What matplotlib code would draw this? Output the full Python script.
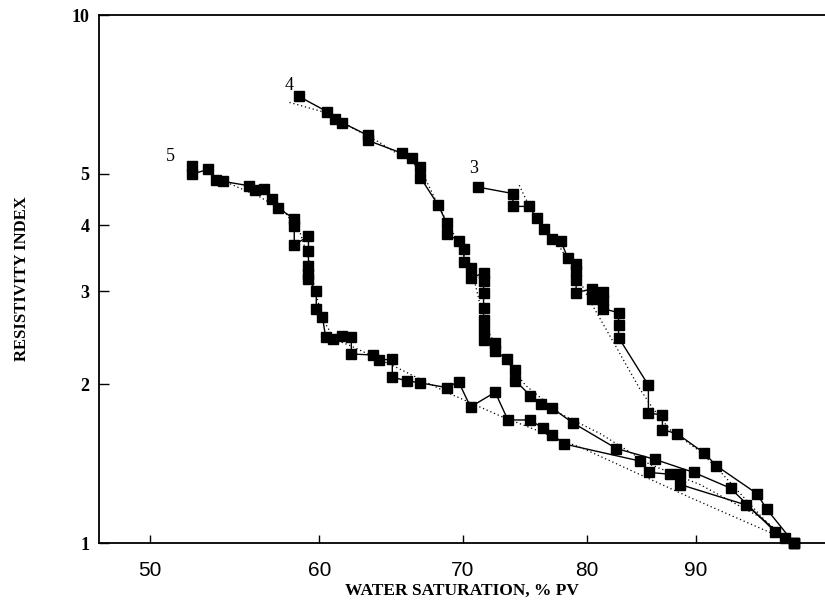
import matplotlib
matplotlib.use("Agg")
import matplotlib.pyplot as plt
from matplotlib.ticker import FixedLocator, NullLocator, FixedFormatter

# Kurve 5 (Messwerte)
sw5 = [52.3, 52.3, 53.2, 53.7, 54.1, 55.6, 56.0, 56.5, 57.0, 57.4, 58.4, 58.4, 58.4,
       59.3, 59.3, 59.3, 59.3, 59.3, 59.8, 59.8, 60.2, 60.4, 60.9, 61.5, 62.1, 62.1,
       63.6, 64.0, 64.9, 64.9, 65.9, 66.9, 68.8, 69.7, 70.6, 72.5, 73.5, 75.3, 76.3,
       77.1, 78.1, 84.7, 85.6, 87.5, 88.5, 88.5, 95.0, 99.0, 100.0]
ri5 = [5.17, 4.99, 5.10, 4.88, 4.84, 4.75, 4.67, 4.68, 4.48, 4.31, 4.11, 3.98, 3.67,
       3.81, 3.57, 3.35, 3.23, 3.16, 3.00, 2.78, 2.68, 2.46, 2.43, 2.47, 2.46, 2.28,
       2.27, 2.22, 2.23, 2.06, 2.03, 2.01, 1.97, 2.02, 1.81, 1.93, 1.71, 1.71, 1.65,
       1.60, 1.54, 1.43, 1.36, 1.35, 1.35, 1.29, 1.18, 1.02, 1.0]

# Kurve 4
sw4 = [58.7, 60.5, 61.0, 61.5, 63.2, 63.2, 65.6, 66.3, 66.9, 66.9, 68.2, 68.8, 68.8,
       69.7, 70.1, 70.1, 70.6, 70.6, 71.6, 71.6, 71.6, 71.6, 71.6, 71.6, 71.6, 72.5,
       72.5, 73.4, 74.1, 74.1, 75.3, 76.2, 77.1, 78.8, 82.6, 86.1, 89.8, 93.4, 98.0,
       100.0]
ri4 = [7.01, 6.56, 6.36, 6.25, 5.92, 5.79, 5.47, 5.37, 5.16, 4.92, 4.36, 4.04, 3.85,
       3.74, 3.61, 3.40, 3.32, 3.17, 3.25, 3.14, 2.97, 2.79, 2.64, 2.53, 2.42, 2.39,
       2.31, 2.23, 2.13, 2.03, 1.90, 1.83, 1.80, 1.69, 1.51, 1.44, 1.36, 1.27, 1.05,
       1.0]

# Kurve 3
sw3 = [71.2, 73.9, 73.9, 75.2, 75.8, 76.4, 77.1, 77.8, 78.4, 79.1, 79.1, 79.1, 79.1,
       80.5, 80.5, 81.4, 81.4, 81.4, 82.8, 82.8, 82.8, 85.5, 85.5, 86.8, 86.8, 88.2,
       90.8, 92.0, 96.1, 97.1, 100.0]
ri3 = [4.72, 4.59, 4.34, 4.34, 4.12, 3.94, 3.76, 3.74, 3.46, 3.37, 3.27, 3.15, 2.98,
       3.03, 2.90, 2.99, 2.89, 2.78, 2.73, 2.59, 2.45, 1.99, 1.76, 1.75, 1.64, 1.61,
       1.48, 1.40, 1.24, 1.16, 1.0]

# gepunktete Anpassungskurven
fit5_sw = [54.5, 56.3, 57.8, 58.8, 59.3, 59.7, 60.2, 61.0, 62.1, 65.2, 68.8, 72.9,
           79.7, 89.4, 100.0]
fit5_ri = [4.79, 4.52, 4.24, 3.85, 3.45, 3.03, 2.66, 2.43, 2.36, 2.15, 1.93, 1.74,
           1.51, 1.22, 1.0]
fit4_sw = [58.1, 60.2, 64.0, 66.9, 68.3, 69.8, 70.9, 71.7, 72.9, 74.9, 77.7, 81.2,
           85.6, 90.4, 96.4, 100.0]
fit4_ri = [6.83, 6.56, 5.74, 5.12, 4.30, 3.66, 3.14, 2.58, 2.29, 1.99, 1.76, 1.61,
           1.41, 1.29, 1.12, 1.0]
fit3_sw = [74.4, 75.3, 76.5, 77.7, 79.0, 80.3, 82.3, 84.7, 85.9, 87.5, 90.4, 92.3,
           97.4, 100.0]
fit3_ri = [4.76, 4.30, 3.92, 3.64, 3.27, 2.87, 2.41, 1.96, 1.80, 1.64, 1.49, 1.37,
           1.08, 1.0]

curve_labels = ["5", "4", "3"]
label_sw = [51.1, 58.1, 70.8]
label_ri = [5.40, 7.35, 5.11]

xticks = [50, 60, 70, 80, 90]
yticks = [1, 2, 3, 4, 5, 10]

serif = ["Liberation Serif", "DejaVu Serif"]

fig = plt.figure(figsize=(8.25, 6.04), dpi=100)
ax = fig.add_axes([99 / 825, 1 - 543 / 604, 1 - 99 / 825, (543 - 15) / 604])
ax.set_xscale("log")
ax.set_yscale("log")

for sw, ri in [(fit5_sw, fit5_ri), (fit4_sw, fit4_ri), (fit3_sw, fit3_ri)]:
    ax.plot(sw, ri, color="black", linestyle=(0, (1, 2.2)), linewidth=0.9)

for sw, ri in [(sw5, ri5), (sw4, ri4), (sw3, ri3)]:
    ax.plot(sw, ri, color="black", linewidth=1.0, marker="s", markersize=7.5,
            markerfacecolor="black", markeredgecolor="black", clip_on=False)

for lab, x, y in zip(curve_labels, label_sw, label_ri):
    ax.text(x, y, lab, ha="center", va="center", fontsize=13, family=serif)

ax.set_xlim(47.33, 103.4)
ax.set_ylim(1, 10)

ax.xaxis.set_major_locator(FixedLocator(xticks))
ax.xaxis.set_major_formatter(FixedFormatter([str(v) for v in xticks]))
ax.xaxis.set_minor_locator(NullLocator())
ax.yaxis.set_major_locator(FixedLocator(yticks))
ax.yaxis.set_major_formatter(FixedFormatter([str(v) for v in yticks]))
ax.yaxis.set_minor_locator(NullLocator())

ax.tick_params(axis="x", direction="in", length=6, width=1, pad=13, labelsize=15)
ax.tick_params(axis="y", direction="in", length=7, width=1, pad=7, labelsize=13)
for t in ax.get_xticklabels():
    t.set_family(["Liberation Sans", "DejaVu Sans"])
for t in ax.get_yticklabels():
    t.set_family(serif)
    t.set_fontweight("bold")

ax.spines["right"].set_visible(False)
for s in ["left", "bottom", "top"]:
    ax.spines[s].set_linewidth(1.3)

ax.set_xlabel("WATER SATURATION, % PV", fontsize=12.5, fontweight="bold",
              family=serif, labelpad=2)
ax.set_ylabel("RESISTIVITY INDEX", fontsize=12, fontweight="bold",
              family=serif, labelpad=30)

plt.savefig("out.png", dpi=100)
plt.close()
